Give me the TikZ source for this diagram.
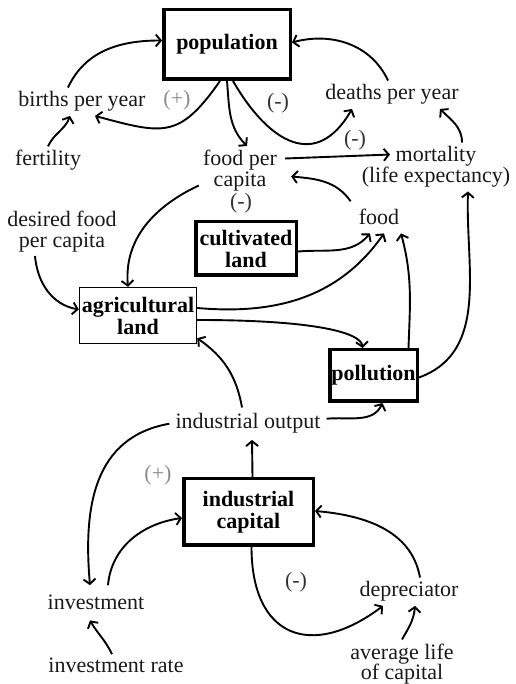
\documentclass[tikz,border=0pt]{standalone}
\usepackage{fontspec}
\setmainfont{Liberation Serif}[BoldFont={Liberation Serif Bold}]
\usetikzlibrary{arrows.meta}

\begin{document}
\begin{tikzpicture}[x=1pt, y=1pt]
        \tikzstyle{textstyle}=[font=\fontsize{22}{20.5}\selectfont, text=black!90, inner sep=4pt]
        \tikzstyle{boxstyle}=[draw, line width=3.5pt, font=\fontsize{22}{22}\selectfont\bfseries, align=center, inner sep=0pt]
        \tikzstyle{signstyle}=[font=\fontsize{22}{22}\selectfont, inner sep=0pt]
        \tikzstyle{linkstyle}=[line width=1.9pt, -{Straight Barb[length=5pt, width=12pt]}]
        \useasboundingbox (0, 0) rectangle (515, 684);

        % the stocks, drawn as boxes
        \node[boxstyle, minimum width=126.5pt, minimum height=69.5pt] at (227, 639.5) (pop) {population};
        \node[boxstyle, minimum width=100.5pt, minimum height=53.5pt] at (246, 435.5) (cult) {cultivated\\land};
        \node[boxstyle, line width=1.4pt, minimum width=117pt, minimum height=56pt] at (138, 368.5) (agri) {agricultural\\land};
        \node[boxstyle, minimum width=87.5pt, minimum height=51.5pt] at (373.5, 308.5) (poll) {pollution};
        \node[boxstyle, minimum width=129.5pt, minimum height=66.5pt] at (248.5, 172) (indcap) {industrial\\capital};

        % the plain variables
        \node[textstyle, anchor=base] at (82, 577) (births) {births per year};
        \node[textstyle, anchor=base] at (392, 584) (deaths) {deaths per year};
        \node[textstyle, anchor=base] at (48, 518) (fert) {fertility};
        \node[textstyle, align=center] at (240, 513.5) (fpc) {food per\\capita};
        \node[textstyle, align=center] at (436, 517) (mort) {mortality\\(life expectancy)};
        \node[textstyle, anchor=base, inner sep=8pt] at (379, 459) (food) {food};
        \node[textstyle, align=center] at (62, 452.5) (desired) {desired food\\per capita};
        \node[textstyle, anchor=base, inner sep=6pt] at (248, 255) (indout) {industrial output};
        \node[textstyle, anchor=base, inner ysep=10pt] at (96, 74) (invest) {investment};
        \node[textstyle, anchor=base] at (116, 11) (invrate) {investment rate};
        \node[textstyle, anchor=base] at (409, 87) (deprec) {depreciator};
        \node[textstyle, align=center] at (402, 20) (avglife) {average life\\of capital};

        % loop signs
        \node[signstyle, text=black!45] at (177, 584) (plusA) {(+)};
        \node[signstyle, text=black!80] at (278, 581) (minusA) {(-)};
        \node[signstyle, text=black!80] at (355, 544) (minusB) {(-)};
        \node[signstyle, text=black!80] at (241, 481) (minusC) {(-)};
        \node[signstyle, text=black!45] at (158, 209) (plusB) {(+)};
        \node[signstyle, text=black!80] at (296, 102) (minusD) {(-)};

        % births and deaths round the population
        \draw[linkstyle] ([xshift=-14pt]births.north) to[out=65, in=180] ([yshift=4pt]pop.west);
        \draw[linkstyle] ([xshift=-7pt]pop.south) to[out=235, in=-15, looseness=1.4] ([xshift=13pt]births.south);
        \draw[linkstyle] (pop.south) to[out=-85, in=135] ([xshift=7pt]fpc.north);
        \draw[linkstyle] ([xshift=6pt]pop.south) to[out=-60, in=-120, looseness=1.5] ([xshift=-40pt]deaths.south);
        \draw[linkstyle] ([xshift=-4pt]deaths.north) to[out=115, in=15] ([yshift=2pt]pop.east);
        \draw[linkstyle] (fert.north) to[out=65, in=-110] ([xshift=-12pt]births.south);

        % food per capita and mortality
        \draw[linkstyle] ([xshift=4pt, yshift=12pt]fpc.east) -- ([xshift=-46pt, yshift=-12pt]mort.north);
        \draw[linkstyle] ([xshift=26pt]mort.north) to[out=90, in=-45] ([xshift=48pt]deaths.south);
        \draw[linkstyle] (food.north west) to[out=125, in=-5] ([xshift=10pt, yshift=-6pt]fpc.east);
        \draw[linkstyle] (fpc.200) to[out=205, in=95] ([xshift=-10pt]agri.north);
        \draw[linkstyle] ([xshift=-27pt]desired.south) to[out=-85, in=170] ([yshift=6pt]agri.west);

        % land and pollution into food
        \draw[linkstyle] ([yshift=-3pt]cult.east) to[out=5, in=230] ([xshift=-9pt]food.south);
        \draw[linkstyle] ([yshift=7.5pt]agri.east) to[out=-5, in=-125] ([xshift=5pt]food.south);
        \draw[linkstyle] ([yshift=-4.5pt]agri.east) to[out=0, in=95, out distance=120pt, in distance=15pt] ([xshift=-11pt]poll.north);
        \draw[linkstyle] ([xshift=35pt]poll.north) to[out=88, in=-75] ([xshift=22pt]food.south);
        \draw[linkstyle] ([yshift=-2pt]poll.east) to[out=20, in=-92] ([xshift=32pt]mort.south);

        % industrial output and capital
        \draw[linkstyle] ([xshift=4pt]indcap.north) -- ([xshift=4pt]indout.south);
        \draw[linkstyle] ([xshift=-6pt]indout.north) to[out=100, in=-35] ([yshift=6pt]agri.south east);
        \draw[linkstyle] ([yshift=5pt]indout.east) to[out=5, in=-115] ([xshift=9pt]poll.south);
        \draw[linkstyle] (indout.west) to[out=190, in=95, looseness=1.1] ([xshift=-6pt]invest.north);
        \draw[linkstyle] ([xshift=12pt]invest.north) to[out=85, in=188] ([yshift=-6pt]indcap.west);
        \draw[linkstyle] ([xshift=-4pt]invrate.north) to[out=115, in=-60] ([xshift=-6pt]invest.south);
        \draw[linkstyle] ([xshift=3pt]indcap.south) to[out=-90, in=-143, looseness=1.6] ([xshift=-26pt]deprec.south);
        \draw[linkstyle] ([xshift=11pt]deprec.north) to[out=100, in=-5] ([yshift=1pt]indcap.east);
        \draw[linkstyle] (avglife.north) to[out=60, in=-95] ([xshift=6pt]deprec.south);
    \end{tikzpicture}
\end{document}
